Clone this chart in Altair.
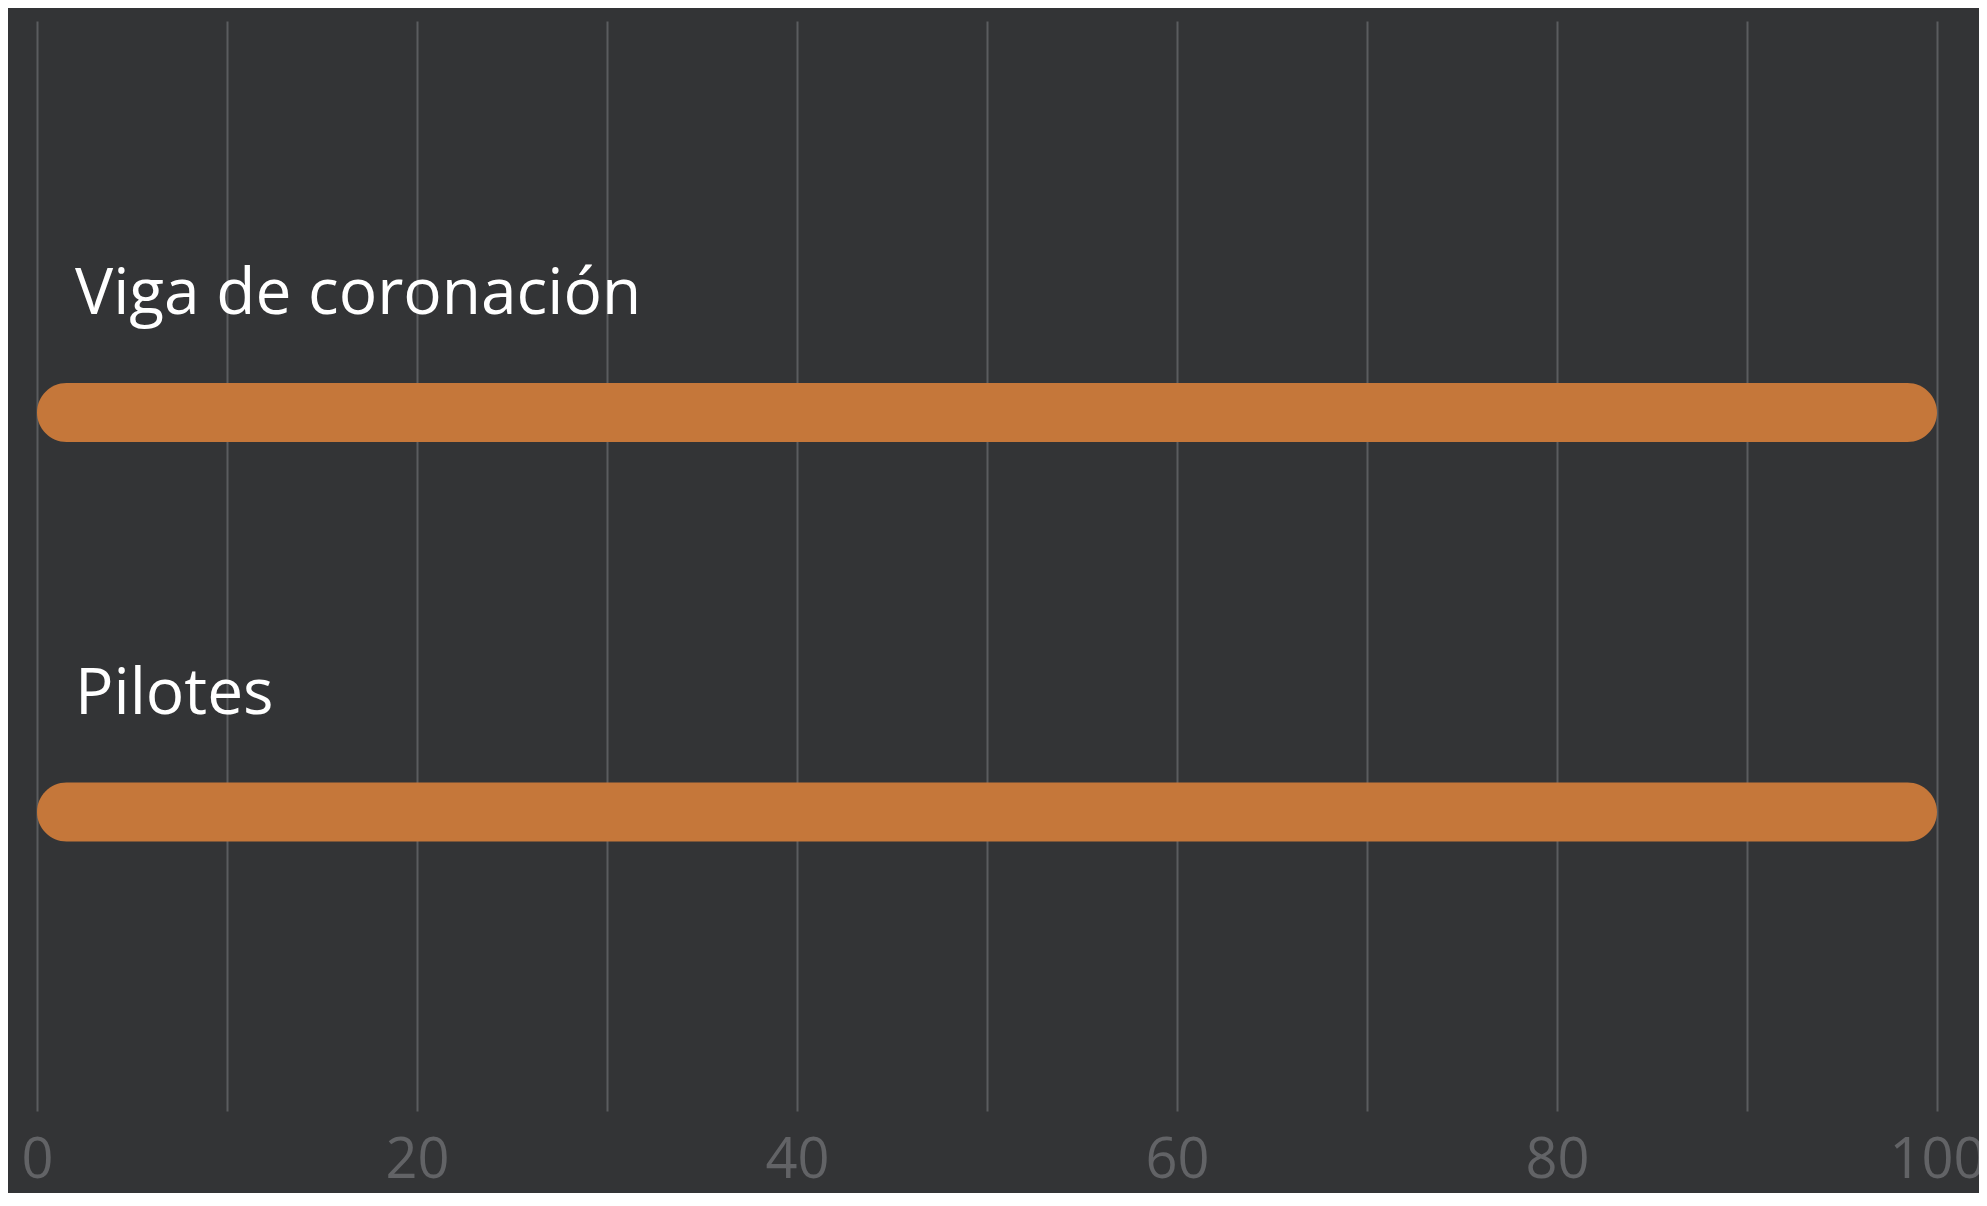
import altair as alt
import pandas as pd

categories = ["Viga de coronación", "Pilotes"]
values = [100, 100]
tick_values = list(range(0, 101, 10))

df = pd.DataFrame({"item": categories, "pct": values, "zero": [0, 0]})

FONT = "Open Sans"

y_enc = alt.Y("item:N", sort=categories,
              scale=alt.Scale(type="point", padding=0.864, align=0.567),
              axis=None)

bars = alt.Chart(df).mark_bar(height=59, cornerRadius=29.5, color="#C5773A").encode(
    x=alt.X("pct:Q", scale=alt.Scale(domain=[0, 100], nice=False),
            axis=alt.Axis(values=tick_values,
                          labelExpr="datum.value % 20 == 0 ? datum.label : ''",
                          grid=True, gridColor="#5B5C5F", gridWidth=2,
                          domain=False, ticks=False, labelFont=FONT, labelFontSize=56,
                          labelColor="#626366", labelPadding=66, labelBaseline="alphabetic",
                          labelFlush=False, labelOverlap=False, title=None)),
    x2="zero:Q",
    y=y_enc,
)

labels = alt.Chart(df).mark_text(align="left", baseline="alphabetic", dx=38, dy=-98,
                                 font=FONT, fontSize=64, color="#FFFFFF").encode(
    x="zero:Q",
    y=y_enc,
    text="item:N",
)

chart = (bars + labels).properties(
    width=1900, height=1090, background="#333436",
    padding={"left": 29, "top": 13, "right": 42, "bottom": 82},
    autosize=alt.AutoSizeParams(type="none"),
).configure_view(stroke=None)

chart.save("out.html", embed_options={"renderer": "svg", "actions": False})
